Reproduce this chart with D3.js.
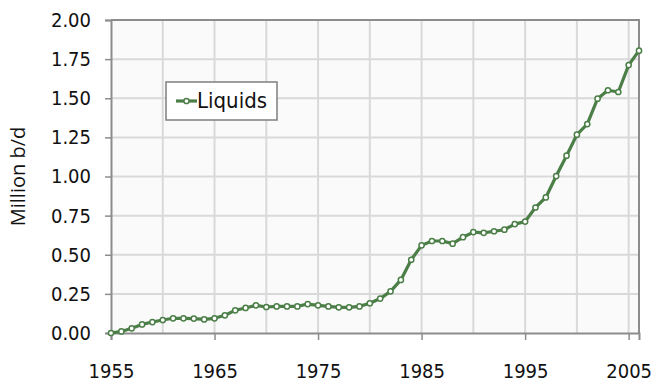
<!DOCTYPE html>
<html>
<head>
<meta charset="utf-8">
<script src="https://cdn.jsdelivr.net/npm/d3@7"></script>
<style>
  html, body { margin: 0; padding: 0; background: #ffffff; }
  svg { display: block; }
  text { font-family: "Liberation Sans Narrow", "DejaVu Sans Condensed", Lato, sans-serif; fill: #111; }
</style>
</head>
<body>
<svg id="chart" width="654" height="385"></svg>
<script>
// Liquids production, million barrels per day, 1955–2006
const years = d3.range(1955, 2007);
const liquids = [
  0.00, 0.01, 0.03, 0.055, 0.07, 0.083, 0.094, 0.094, 0.092, 0.087,
  0.094, 0.113, 0.145, 0.16, 0.177, 0.166, 0.17, 0.17, 0.17, 0.185,
  0.177, 0.17, 0.164, 0.164, 0.17, 0.19, 0.22, 0.266, 0.339, 0.468,
  0.56, 0.588, 0.588, 0.571, 0.612, 0.645, 0.64, 0.65, 0.66, 0.696,
  0.712, 0.802, 0.866, 1.003, 1.133, 1.267, 1.335, 1.497, 1.551, 1.540,
  1.712, 1.804
];
const yTicks = [0, 0.25, 0.5, 0.75, 1.0, 1.25, 1.5, 1.75, 2.0];
const xTickLabels = [1955, 1965, 1975, 1985, 1995, 2005];
const xGridYears = d3.range(1960, 2006, 5);
const seriesName = "Liquids";

const svg = d3.select("#chart");
const margin = { top: 20, right: 15, bottom: 52, left: 111 };
const W = 654, H = 385;
const iw = W - margin.left - margin.right;
const ih = H - margin.top - margin.bottom;

const x = d3.scaleLinear().domain([1955, 2006]).range([0, iw]);
const y = d3.scaleLinear().domain([0, 2]).range([ih, 0]);

const green = "#4b7f47";
const axisGray = "#8c8c8c";
const gridGray = "#d9d9d9";

const g = svg.append("g").attr("transform", `translate(${margin.left},${margin.top})`);

// plot background
g.append("rect").attr("width", iw).attr("height", ih).attr("fill", "#fafafa");

// grid lines
g.append("g").selectAll("line").data(yTicks.slice(1)).join("line")
  .attr("x1", 0).attr("x2", iw)
  .attr("y1", d => y(d)).attr("y2", d => y(d))
  .attr("stroke", gridGray).attr("stroke-width", 2);
g.append("g").selectAll("line").data(xGridYears).join("line")
  .attr("x1", d => x(d)).attr("x2", d => x(d))
  .attr("y1", 0).attr("y2", ih)
  .attr("stroke", gridGray).attr("stroke-width", 2);

// frame: top and right edges
g.append("path")
  .attr("d", `M0,0H${iw}V${ih}`)
  .attr("fill", "none").attr("stroke", axisGray).attr("stroke-width", 2);

// y axis
const yAxis = d3.axisLeft(y).tickValues(yTicks).tickFormat(d3.format(".2f")).tickSize(6).tickPadding(14);
const yg = g.append("g").call(yAxis);
yg.select(".domain").attr("stroke", axisGray).attr("stroke-width", 2);
yg.selectAll(".tick line").attr("stroke", axisGray).attr("stroke-width", 1.5);
yg.selectAll(".tick text").attr("font-size", 20).style("fill", "#111");

// x axis
const xAxis = d3.axisBottom(x).tickValues(xTickLabels).tickFormat(d3.format("d")).tickSize(7).tickPadding(24);
const xg = g.append("g").attr("transform", `translate(0,${ih})`).call(xAxis);
xg.select(".domain").attr("stroke", axisGray).attr("stroke-width", 2);
xg.selectAll(".tick line").attr("stroke", axisGray).attr("stroke-width", 1.5);
xg.selectAll(".tick text").attr("font-size", 20).style("fill", "#111");

// y title
svg.append("text")
  .attr("transform", `translate(25,${margin.top + ih / 2}) rotate(-90)`)
  .attr("text-anchor", "middle")
  .attr("font-size", 20)
  .style("font-family", "'Open Sans', sans-serif")
  .text("Million b/d");

// series
const pts = years.map((yr, i) => ({ yr, v: liquids[i] }));
g.append("path").datum(pts)
  .attr("fill", "none").attr("stroke", green).attr("stroke-width", 3.2)
  .attr("stroke-linejoin", "round")
  .attr("d", d3.line().x(d => x(d.yr)).y(d => y(d.v)));
g.append("g").selectAll("circle").data(pts).join("circle")
  .attr("cx", d => x(d.yr)).attr("cy", d => y(d.v)).attr("r", 2.6)
  .attr("fill", "#fff").attr("stroke", green).attr("stroke-width", 1.5);

// legend
const lg = svg.append("g").attr("transform", "translate(166,82)");
lg.append("rect").attr("width", 111).attr("height", 38)
  .attr("fill", "#fff").attr("stroke", "#7f7f7f").attr("stroke-width", 1.5);
lg.append("line").attr("x1", 10).attr("x2", 31).attr("y1", 19).attr("y2", 19)
  .attr("stroke", green).attr("stroke-width", 3.2);
lg.append("circle").attr("cx", 20.5).attr("cy", 19).attr("r", 2.6)
  .attr("fill", "#fff").attr("stroke", green).attr("stroke-width", 1.5);
lg.append("text").attr("x", 31).attr("y", 26).attr("font-size", 22).text(seriesName);
</script>
</body>
</html>
